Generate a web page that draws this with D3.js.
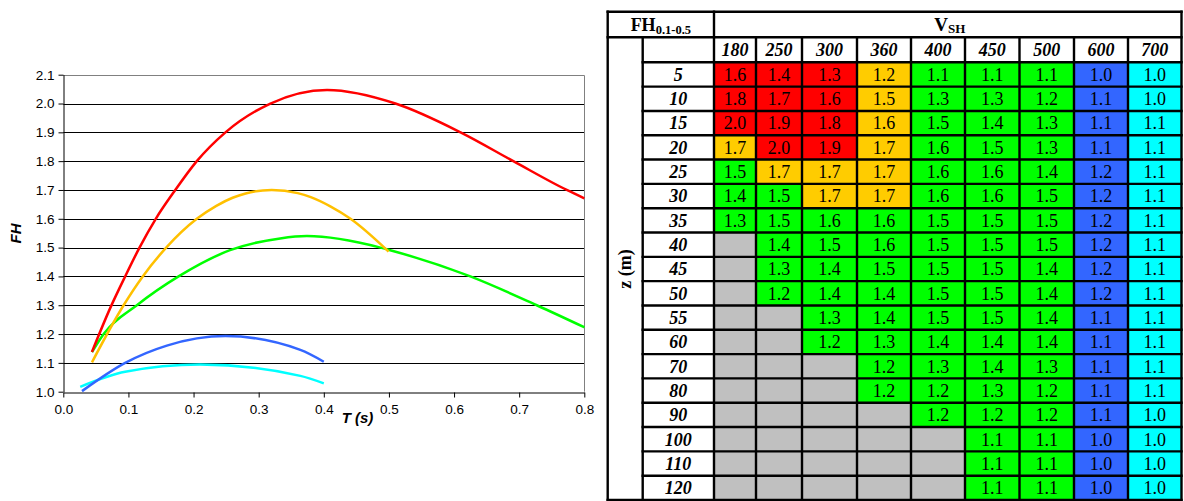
<!DOCTYPE html>
<html>
<head>
<meta charset="utf-8">
<script src="https://cdn.jsdelivr.net/npm/d3@7/dist/d3.min.js"></script>
<style>
  html, body { margin: 0; padding: 0; background: #fff; }
  svg { display: block; }
</style>
</head>
<body>
<svg id="chart" width="1184" height="501"></svg>
<script>
// ---- Curve data: FH against period T (s), one series per shear-wave velocity group ----
const redT    = [0.044, 0.072, 0.095, 0.117, 0.142, 0.172, 0.205, 0.249, 0.318, 0.405, 0.51, 0.61, 0.691, 0.773, 0.8];
const redFH   = [1.138, 1.29, 1.40, 1.50, 1.60, 1.70, 1.80, 1.90, 2.00, 2.047, 2.00, 1.90, 1.80, 1.70, 1.671];
const orangeT  = [0.044, 0.0926, 0.122, 0.158, 0.205, 0.235, 0.26, 0.28, 0.32, 0.36, 0.38, 0.41, 0.441, 0.4995];
const orangeFH = [1.102, 1.30, 1.40, 1.50, 1.60, 1.645, 1.673, 1.688, 1.70, 1.689, 1.675, 1.643, 1.60, 1.486];
const greenT  = [0.044, 0.062, 0.113, 0.177, 0.256, 0.333, 0.374, 0.487, 0.502, 0.625, 0.727, 0.8];
const greenFH = [1.137, 1.20, 1.30, 1.40, 1.491, 1.532, 1.540, 1.50, 1.491, 1.40, 1.30, 1.2235];
const blueT   = [0.0287, 0.095, 0.159, 0.249, 0.364, 0.40];
const blueFH  = [1.002, 1.10, 1.16, 1.193, 1.145, 1.104];
const cyanT   = [0.026, 0.095, 0.21, 0.364, 0.40];
const cyanFH  = [1.017, 1.069, 1.094, 1.055, 1.029];

const yTicks = [1.0, 1.1, 1.2, 1.3, 1.4, 1.5, 1.6, 1.7, 1.8, 1.9, 2.0, 2.1];
const xTicks = [0.0, 0.1, 0.2, 0.3, 0.4, 0.5, 0.6, 0.7, 0.8];

// ---- Table data: FH(0.1-0.5) by depth z (m) and V_SH ----
const vshCols = ["180", "250", "300", "360", "400", "450", "500", "600", "700"];
const depthRows = ["5", "10", "15", "20", "25", "30", "35", "40", "45", "50", "55", "60", "70", "80", "90", "100", "110", "120"];
const fhValues = [
  ["1.6","1.4","1.3","1.2","1.1","1.1","1.1","1.0","1.0"],
  ["1.8","1.7","1.6","1.5","1.3","1.3","1.2","1.1","1.0"],
  ["2.0","1.9","1.8","1.6","1.5","1.4","1.3","1.1","1.1"],
  ["1.7","2.0","1.9","1.7","1.6","1.5","1.3","1.1","1.1"],
  ["1.5","1.7","1.7","1.7","1.6","1.6","1.4","1.2","1.1"],
  ["1.4","1.5","1.7","1.7","1.6","1.6","1.5","1.2","1.1"],
  ["1.3","1.5","1.6","1.6","1.5","1.5","1.5","1.2","1.1"],
  ["",   "1.4","1.5","1.6","1.5","1.5","1.5","1.2","1.1"],
  ["",   "1.3","1.4","1.5","1.5","1.5","1.4","1.2","1.1"],
  ["",   "1.2","1.4","1.4","1.5","1.5","1.4","1.2","1.1"],
  ["",   "",   "1.3","1.4","1.5","1.5","1.4","1.1","1.1"],
  ["",   "",   "1.2","1.3","1.4","1.4","1.4","1.1","1.1"],
  ["",   "",   "",   "1.2","1.3","1.4","1.3","1.1","1.1"],
  ["",   "",   "",   "1.2","1.2","1.3","1.2","1.1","1.1"],
  ["",   "",   "",   "",   "1.2","1.2","1.2","1.1","1.0"],
  ["",   "",   "",   "",   "",   "1.1","1.1","1.0","1.0"],
  ["",   "",   "",   "",   "",   "1.1","1.1","1.0","1.0"],
  ["",   "",   "",   "",   "",   "1.1","1.1","1.0","1.0"]
];
// group code of every cell: R red, O orange, G green, B blue, C cyan, X no value
const groupCodes = [
  "RRROGGGBC",
  "RRROGGGBC",
  "RRROGGGBC",
  "ORROGGGBC",
  "GOOOGGGBC",
  "GGOOGGGBC",
  "GGGGGGGBC",
  "XGGGGGGBC",
  "XGGGGGGBC",
  "XGGGGGGBC",
  "XXGGGGGBC",
  "XXGGGGGBC",
  "XXXGGGGBC",
  "XXXGGGGBC",
  "XXXXGGGBC",
  "XXXXXGGBC",
  "XXXXXGGBC",
  "XXXXXGGBC"
];

const groupColor = { R: "#ff0000", O: "#ffcc00", G: "#00ff00", B: "#3366ff", C: "#00ffff", X: "#c0c0c0" };

const svg = d3.select("#chart");

// ================= Line chart =================
const x = d3.scaleLinear().domain([0, 0.8]).range([63.3, 584.3]);
const y = d3.scaleLinear().domain([1.0, 2.1]).range([391.7, 74.7]);

const plot = svg.append("g");

// horizontal gridlines
plot.selectAll("line.grid")
  .data(yTicks.filter(v => v > 1.0 && v < 2.1))
  .join("line")
  .attr("class", "grid")
  .attr("x1", x(0)).attr("x2", x(0.8))
  .attr("y1", d => Math.round(y(d)) + 0.5).attr("y2", d => Math.round(y(d)) + 0.5)
  .attr("stroke", "#000").attr("stroke-width", 1);

// plot-area frame (top and right in grey)
plot.append("path")
  .attr("d", `M${x(0)},${Math.round(y(2.1)) + 0.5}H${Math.round(x(0.8)) + 0.5}V${y(1.0)}`)
  .attr("fill", "none").attr("stroke", "#808080").attr("stroke-width", 1);

// axes
const yAxis = d3.axisLeft(y).tickValues(yTicks).tickFormat(d3.format(".1f")).tickSizeInner(5).tickSizeOuter(0).tickPadding(4);
const xAxis = d3.axisBottom(x).tickValues(xTicks).tickFormat(d3.format(".1f")).tickSizeInner(5).tickSizeOuter(0).tickPadding(7);

const gy = plot.append("g").attr("transform", `translate(${Math.round(x(0)) + 0.5},0)`).call(yAxis);
const gx = plot.append("g").attr("transform", `translate(0,${Math.round(y(1.0)) + 0.5})`).call(xAxis);
[gy, gx].forEach(g => {
  g.selectAll("path, line").attr("stroke", "#000");
  g.selectAll("text").attr("font-family", "Liberation Sans, Arial, sans-serif")
    .attr("font-size", "13.5px").attr("fill", "#000");
});

// curves
const series = [
  { t: cyanT,   fh: cyanFH,   color: "#00ffff" },
  { t: blueT,   fh: blueFH,   color: "#3366ff" },
  { t: greenT,  fh: greenFH,  color: "#00ff00" },
  { t: orangeT, fh: orangeFH, color: "#ffc000" },
  { t: redT,    fh: redFH,    color: "#ff0000" }
];
const line = d3.line().x(d => x(d[0])).y(d => y(d[1])).curve(d3.curveMonotoneX);
plot.selectAll("path.curve")
  .data(series)
  .join("path")
  .attr("class", "curve")
  .attr("d", s => line(s.t.map((t, i) => [t, s.fh[i]])))
  .attr("fill", "none")
  .attr("stroke", s => s.color)
  .attr("stroke-width", 2.5);

// axis titles
plot.append("text")
  .attr("x", 357.5).attr("y", 423)
  .attr("text-anchor", "middle")
  .attr("font-family", "Liberation Sans, Arial, sans-serif")
  .attr("font-size", "15px").attr("font-weight", "bold").attr("font-style", "italic")
  .text("T (s)");
plot.append("text")
  .attr("transform", "translate(21,233.5) rotate(-90)")
  .attr("text-anchor", "middle")
  .attr("font-family", "Liberation Sans, Arial, sans-serif")
  .attr("font-size", "15px").attr("font-weight", "bold").attr("font-style", "italic")
  .text("FH");

// ================= Table =================
const colEdges = [714, 756, 802, 857, 911, 965, 1019.5, 1074, 1128, 1181.5];
const tableLeft = 607.7, zColRight = 642.7, labelRight = 714;
const headTop = 11.7, headBottom = 37.3, colLabelBottom = 62.3, tableBottom = 500;
const rowY = d3.scaleBand().domain(depthRows).range([colLabelBottom, tableBottom]).padding(0);
const serif = "Liberation Serif, Times New Roman, serif";

const tbl = svg.append("g");

// white background
tbl.append("rect")
  .attr("x", tableLeft).attr("y", headTop)
  .attr("width", colEdges[colEdges.length - 1] - tableLeft).attr("height", tableBottom - headTop)
  .attr("fill", "#fff");

// value cells
const cells = [];
depthRows.forEach((z, r) => vshCols.forEach((v, c) => {
  cells.push({ r, c, z, v, val: fhValues[r][c], code: groupCodes[r][c] });
}));

tbl.selectAll("rect.cell")
  .data(cells)
  .join("rect")
  .attr("class", "cell")
  .attr("x", d => colEdges[d.c]).attr("y", d => rowY(d.z))
  .attr("width", d => colEdges[d.c + 1] - colEdges[d.c]).attr("height", rowY.bandwidth())
  .attr("fill", d => groupColor[d.code]);

tbl.selectAll("text.val")
  .data(cells.filter(d => d.val !== ""))
  .join("text")
  .attr("class", "val")
  .attr("x", d => (colEdges[d.c] + colEdges[d.c + 1]) / 2)
  .attr("y", d => rowY(d.z) + rowY.bandwidth() / 2 + 6.3)
  .attr("text-anchor", "middle")
  .attr("font-family", serif).attr("font-size", "18px").attr("fill", "#000")
  .text(d => d.val);

// column labels (V_SH)
tbl.selectAll("text.col")
  .data(vshCols)
  .join("text")
  .attr("class", "col")
  .attr("x", (d, i) => (colEdges[i] + colEdges[i + 1]) / 2)
  .attr("y", (headBottom + colLabelBottom) / 2 + 6.3)
  .attr("text-anchor", "middle")
  .attr("font-family", serif).attr("font-size", "18px")
  .attr("font-weight", "bold").attr("font-style", "italic")
  .text(d => d);

// row labels (z)
tbl.selectAll("text.row")
  .data(depthRows)
  .join("text")
  .attr("class", "row")
  .attr("x", (zColRight + labelRight) / 2)
  .attr("y", d => rowY(d) + rowY.bandwidth() / 2 + 6.3)
  .attr("text-anchor", "middle")
  .attr("font-family", serif).attr("font-size", "18px")
  .attr("font-weight", "bold").attr("font-style", "italic")
  .text(d => d);

// header texts
const fhHead = tbl.append("text")
  .attr("x", (tableLeft + labelRight) / 2).attr("y", 30.7)
  .attr("text-anchor", "middle")
  .attr("font-family", serif).attr("font-weight", "bold").attr("font-size", "18px");
fhHead.append("tspan").text("FH");
fhHead.append("tspan").attr("font-size", "12.5px").attr("dy", 2.8).text("0.1-0.5");

const vHead = tbl.append("text")
  .attr("x", (labelRight + colEdges[colEdges.length - 1]) / 2 + 2).attr("y", 30.5)
  .attr("text-anchor", "middle")
  .attr("font-family", serif).attr("font-weight", "bold").attr("font-size", "19px");
vHead.append("tspan").text("V");
vHead.append("tspan").attr("font-size", "13px").attr("dy", 2.8).text("SH");

tbl.append("text")
  .attr("transform", `translate(${(tableLeft + zColRight) / 2 + 5.5},269) rotate(-90)`)
  .attr("text-anchor", "middle")
  .attr("font-family", serif).attr("font-weight", "bold").attr("font-size", "18px")
  .text("z (m)");

// grid lines
const right = colEdges[colEdges.length - 1];
const gridSegs = [];
// horizontal
gridSegs.push([tableLeft, headTop, right, headTop]);
gridSegs.push([tableLeft, headBottom, right, headBottom]);
gridSegs.push([zColRight, colLabelBottom, right, colLabelBottom]);
depthRows.slice(1).forEach(z => gridSegs.push([zColRight, rowY(z), right, rowY(z)]));
gridSegs.push([tableLeft, tableBottom, right, tableBottom]);
// vertical
gridSegs.push([tableLeft, headTop, tableLeft, tableBottom]);
gridSegs.push([zColRight, headBottom, zColRight, tableBottom]);
gridSegs.push([labelRight, headTop, labelRight, tableBottom]);
colEdges.slice(1, -1).forEach(cx => gridSegs.push([cx, headBottom, cx, tableBottom]));
gridSegs.push([right, headTop, right, tableBottom]);

tbl.selectAll("line.tg")
  .data(gridSegs)
  .join("line")
  .attr("class", "tg")
  .attr("x1", d => d[0]).attr("y1", d => d[1]).attr("x2", d => d[2]).attr("y2", d => d[3])
  .attr("stroke", "#000").attr("stroke-width", 2.4).attr("stroke-linecap", "square");
</script>
</body>
</html>
